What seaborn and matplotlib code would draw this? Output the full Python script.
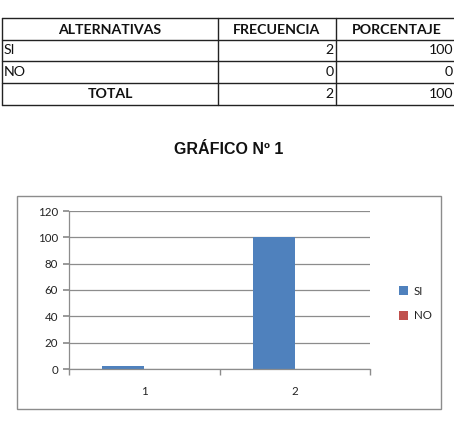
import matplotlib
matplotlib.use("Agg")
import matplotlib.pyplot as plt
from matplotlib.lines import Line2D
from matplotlib.patches import Rectangle
import seaborn as sns
import pandas as pd

# ---- data ----
categories = ["1", "2"]
series_names = ["SI", "NO"]
si_values = [2, 100]
no_values = [0, 0]
y_ticks = [0, 20, 40, 60, 80, 100, 120]

table_header = ["ALTERNATIVAS", "FRECUENCIA", "PORCENTAJE"]
table_rows = [["SI", "2", "100"], ["NO", "0", "0"]]
table_total = ["TOTAL", "2", "100"]
title = "GRÁFICO Nº 1"

df = pd.DataFrame({
    "cat": categories * 2,
    "val": si_values + no_values,
    "serie": [series_names[0]] * len(categories) + [series_names[1]] * len(categories),
})

W, H = 454, 422
sns.set_theme(style="white")
plt.rcParams["font.family"] = ["Lato", "DejaVu Sans"]
plt.rcParams["text.color"] = "#111111"
fig = plt.figure(figsize=(W / 100, H / 100), dpi=100)

def fx(x):
    return x / W

def fy(y):
    return 1 - y / H

# ---- table ----
tl = dict(color="#222222", lw=1.0, transform=fig.transFigure)
for y in [18, 40, 61, 83, 105]:
    fig.add_artist(Line2D([fx(2), fx(460)], [fy(y), fy(y)], **tl))
for x in [2, 218, 336]:
    fig.add_artist(Line2D([fx(x), fx(x)], [fy(18), fy(105)], **tl))

tfs = 10.2
col_centers = [110, 277, 397]
for c, t in zip(col_centers, table_header):
    fig.text(fx(c), fy(29.5), t, ha="center", va="center", fontsize=tfs, fontweight="bold")
for i, row in enumerate(table_rows):
    yc = [50.5, 72][i]
    fig.text(fx(4), fy(yc), row[0], ha="left", va="center", fontsize=tfs)
    fig.text(fx(334), fy(yc), row[1], ha="right", va="center", fontsize=tfs)
    fig.text(fx(453), fy(yc), row[2], ha="right", va="center", fontsize=tfs)
fig.text(fx(110), fy(94), table_total[0], ha="center", va="center", fontsize=tfs, fontweight="bold")
fig.text(fx(334), fy(94), table_total[1], ha="right", va="center", fontsize=tfs)
fig.text(fx(453), fy(94), table_total[2], ha="right", va="center", fontsize=tfs)

# ---- title ----
fig.text(fx(229), fy(154), title, ha="center", va="baseline", fontsize=11.5,
         fontweight="bold", family=["Liberation Sans", "DejaVu Sans"])

# ---- chart frame ----
fig.add_artist(Rectangle((fx(17), fy(409)), fx(441) - fx(17), fy(196) - fy(409),
                         transform=fig.transFigure, fill=False, edgecolor="#8c8c8c", lw=1.0))

# ---- chart ----
ax = fig.add_axes([fx(69), fy(369), fx(370) - fx(69), fy(211) - fy(369)])
sns.barplot(data=df, x="cat", y="val", hue="serie", palette=["#4F81BD", "#C0504D"],
            width=0.56, ax=ax, legend=True, saturation=1, linewidth=0)
ax.set_xlim(-0.5, 1.5)
ax.set_ylim(0, 120)
ax.set_yticks(y_ticks)
ax.set_xlabel("")
ax.set_ylabel("")
ax.grid(axis="y", color="#8c8c8c", lw=0.9)
ax.set_axisbelow(True)
for s in ["top", "right"]:
    ax.spines[s].set_visible(False)
for s in ["left", "bottom"]:
    ax.spines[s].set_color("#8c8c8c")
    ax.spines[s].set_linewidth(0.9)
ax.tick_params(axis="y", length=4, color="#8c8c8c", labelsize=8.3, pad=4, left=True,
               labelcolor="#222222")
ax.tick_params(axis="x", which="major", length=0, labelsize=8.3, pad=12, labelcolor="#222222")
ax.set_xticks([-0.5, 0.5, 1.5], minor=True)
ax.tick_params(axis="x", which="minor", length=4, color="#8c8c8c", bottom=True)

handles, labels = ax.get_legend_handles_labels()
ax.legend_.remove()
fig.legend(handles, labels, loc="center left", bbox_to_anchor=(fx(389), fy(303.5)),
           bbox_transform=fig.transFigure, frameon=False, fontsize=8.3,
           handlelength=0.75, handleheight=0.75, handletextpad=0.5, labelspacing=1.2,
           labelcolor="#222222")

fig.savefig("out.png", dpi=100)
